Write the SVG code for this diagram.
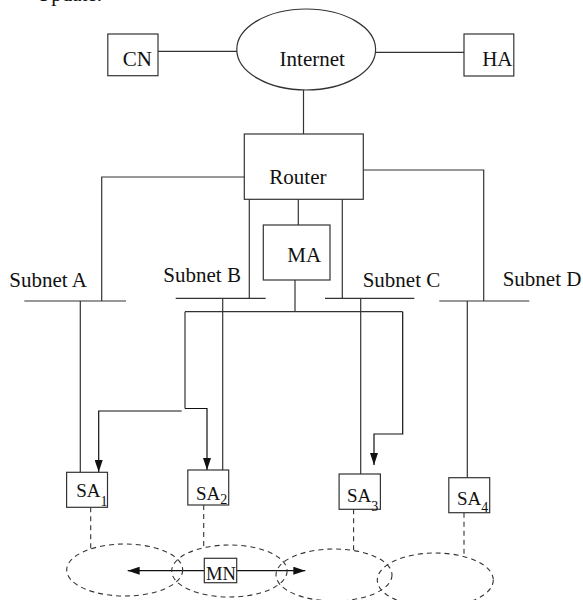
<svg xmlns="http://www.w3.org/2000/svg" width="583" height="600" viewBox="0 0 583 600">
<defs>
<marker id="ah" markerUnits="userSpaceOnUse" markerWidth="13" markerHeight="8" refX="12" refY="4" orient="auto">
<path d="M0,0 L12,4 L0,8 z" fill="#111"/>
</marker>
</defs>
<style>
.box{fill:#fff;stroke:#333;stroke-width:1.2}
.ln{fill:none;stroke:#333;stroke-width:1.2}
.ar{fill:none;stroke:#111;stroke-width:1.2;marker-end:url(#ah)}
.ds{fill:none;stroke:#333;stroke-width:1.1;stroke-dasharray:5,4}
.t{font-family:"Liberation Serif","Times New Roman",serif;font-size:21px;fill:#111}
.s{font-family:"Liberation Serif","Times New Roman",serif;font-size:19px;fill:#111}
.sub{font-size:14px;fill:#111}
</style>
<rect width="583" height="600" fill="#fff"/>
<text class="t" x="36" y="1">Update.</text>
<g id="connectors">
<line class="ln" x1="158" y1="51.3" x2="237" y2="51.3"/>
<line class="ln" x1="375.5" y1="52.3" x2="464" y2="52.3"/>
<line class="ln" x1="303.5" y1="90" x2="303.5" y2="134"/>
<polyline class="ln" points="244,177 101.7,177 101.7,301"/>
<line class="ln" x1="249.3" y1="199" x2="249.3" y2="298.3"/>
<line class="ln" x1="298.3" y1="199" x2="298.3" y2="225"/>
<line class="ln" x1="342.3" y1="199" x2="342.3" y2="298.3"/>
<polyline class="ln" points="363,170 483.7,170 483.7,301"/>
<line class="ln" x1="80.3" y1="301" x2="80.3" y2="472.3"/>
<line class="ln" x1="222.7" y1="298.3" x2="222.7" y2="472"/>
<line class="ln" x1="360.7" y1="298.3" x2="360.7" y2="474"/>
<line class="ln" x1="467.3" y1="301" x2="467.3" y2="477.7"/>
<line class="ln" x1="295" y1="280" x2="295" y2="311.7"/>
<line class="ln" x1="185" y1="311.7" x2="402.7" y2="311.7"/>
<line class="ln" x1="185" y1="311.7" x2="185" y2="408.5"/>
<polyline class="ar" points="185,408.5 207,408.5 207,470"/>
<polyline class="ar" points="181.7,411 98.7,411 98.7,472"/>
<polyline class="ar" points="402.7,311.7 402.7,434 374,434 374,465"/>
<line class="ds" x1="90.7" y1="507.3" x2="90.7" y2="549"/>
<line class="ds" x1="203.7" y1="505" x2="203.7" y2="550"/>
<line class="ds" x1="353.6" y1="509.3" x2="353.6" y2="553"/>
<line class="ds" x1="464" y1="512.7" x2="464" y2="557"/>
<line class="ar" x1="204.3" y1="570.7" x2="127.7" y2="570.7"/>
<line class="ar" x1="236.7" y1="570.7" x2="305.3" y2="570.7"/>
</g>
<g id="subnetA"><line class="ln" x1="24.3" y1="301" x2="126" y2="301"/><text class="t" x="9.3" y="286.7">Subnet A</text></g>
<g id="subnetB"><line class="ln" x1="175.7" y1="298.3" x2="265.7" y2="298.3"/><text class="t" x="163.3" y="282">Subnet B</text></g>
<g id="subnetC"><line class="ln" x1="325" y1="298.3" x2="414.3" y2="298.3"/><text class="t" x="362.7" y="286.7">Subnet C</text></g>
<g id="subnetD"><line class="ln" x1="439.3" y1="301" x2="529.3" y2="301"/><text class="t" x="502.7" y="285.7">Subnet D</text></g>
<g id="CN"><rect class="box" x="107.8" y="34" width="50.2" height="41.7"/><text class="t" x="122.7" y="65.7">CN</text></g>
<g id="internet"><ellipse class="box" cx="306.2" cy="49.5" rx="69.4" ry="40.5"/><text class="t" x="279.6" y="65.7">Internet</text></g>
<g id="HA"><rect class="box" x="464" y="34" width="49.8" height="42"/><text class="t" x="482.2" y="65.7">HA</text></g>
<g id="router"><rect class="box" x="244.3" y="134" width="119" height="65.3"/><text class="t" x="269.3" y="184">Router</text></g>
<g id="MA"><rect class="box" x="263.3" y="225" width="66.7" height="55"/><text class="t" x="287.3" y="261.7">MA</text></g>
<g id="SA1"><rect class="box" x="66.6" y="472.3" width="40.9" height="35"/><text class="s" x="76.2" y="497.3">SA<tspan class="sub" dy="8.7">1</tspan></text></g>
<g id="SA2"><rect class="box" x="187.8" y="470" width="40.9" height="35"/><text class="s" x="196" y="500">SA<tspan class="sub" dy="4">2</tspan></text></g>
<g id="SA3"><rect class="box" x="339.1" y="474" width="41.3" height="35.3"/><text class="s" x="347" y="502.3">SA<tspan class="sub" dy="8.7">3</tspan></text></g>
<g id="SA4"><rect class="box" x="448.8" y="477.7" width="40.9" height="35"/><text class="s" x="457" y="505">SA<tspan class="sub" dy="6.7">4</tspan></text></g>
<g id="cells">
<ellipse class="ds" cx="124.7" cy="570" rx="58" ry="26"/>
<ellipse class="ds" cx="229.4" cy="571" rx="57.7" ry="26"/>
<ellipse class="ds" cx="334" cy="575" rx="58" ry="26"/>
<ellipse class="ds" cx="435.3" cy="580" rx="58" ry="27"/>
</g>
<g id="MN"><rect class="box" x="204.3" y="558.3" width="32.4" height="24.4"/><text class="s" x="206" y="579.5" textLength="30" lengthAdjust="spacingAndGlyphs">MN</text></g>
</svg>
